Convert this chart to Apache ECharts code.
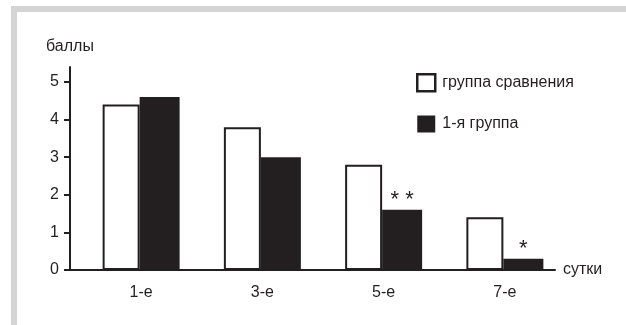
<!DOCTYPE html>
<html>
<head>
<meta charset="utf-8">
<script src="https://cdn.jsdelivr.net/npm/echarts@6/dist/echarts.min.js"></script>
<style>
  html, body { margin: 0; padding: 0; background: #fff; }
  #wrap { position: relative; width: 626px; height: 325px; overflow: hidden; }
  #frame { position: absolute; left: 11px; top: 6px; right: 0; bottom: 0;
           border-top: 6px solid #d4d4d4; border-left: 6px solid #d4d4d4; }
  #chart { position: absolute; left: 0; top: 0; width: 626px; height: 325px; }
</style>
</head>
<body>
<div id="wrap">
  <div id="frame"></div>
  <div id="chart"></div>
</div>
<script>
const categories = ['1-е', '3-е', '5-е', '7-е'];
const comparisonGroup = [4.4, 3.8, 2.8, 1.4];
const firstGroup = [4.6, 3.0, 1.6, 0.3];
const significance = ['', '', '**', '*'];
const yTicks = [0, 1, 2, 3, 4, 5];
const seriesNames = ['группа сравнения', '1-я группа'];

const ink = '#231f20';
const font = '"Liberation Sans", Arial, Helvetica, sans-serif';
const fs = 16;

const chart = echarts.init(document.getElementById('chart'), null, { renderer: 'canvas' });
chart.setOption({
  backgroundColor: 'transparent',
  animation: false,
  textStyle: { fontFamily: font, color: ink },
  legend: {
    orient: 'vertical',
    left: 411,
    top: 68,
    padding: 5,
    itemWidth: 18,
    itemHeight: 17,
    itemGap: 23,
    icon: 'rect',
    textStyle: { fontFamily: font, fontSize: fs, color: ink, padding: [0, 0, 0, 2] },
    data: [
      { name: seriesNames[0], itemStyle: { borderWidth: 2.5, borderColor: ink } },
      { name: seriesNames[1] }
    ]
  },
  grid: [
    { left: 70, top: 67, width: 485, height: 203 },
    { left: 80.5, top: 67, width: 485, height: 203 }
  ],
  xAxis: [
    {
      gridIndex: 0, type: 'category', data: categories,
      axisLine: { show: true, lineStyle: { color: ink, width: 2 } },
      axisTick: { show: false }, axisLabel: { show: false },
      name: 'сутки', nameLocation: 'end', nameGap: 8,
      nameTextStyle: { fontFamily: font, fontSize: fs, color: ink }
    },
    {
      gridIndex: 1, type: 'category', data: categories,
      axisLine: { show: false }, axisTick: { show: false },
      axisLabel: { fontFamily: font, fontSize: fs, color: ink, margin: 15 }
    }
  ],
  yAxis: [
    {
      gridIndex: 0, type: 'value', min: 0, max: 5.4,
      axisLine: { show: true, lineStyle: { color: ink, width: 2 } },
      axisTick: { show: true, length: 6, inside: false, customValues: yTicks, lineStyle: { color: ink, width: 2 } },
      axisLabel: { fontFamily: font, fontSize: fs, color: ink, margin: 11, customValues: yTicks },
      splitLine: { show: false },
      name: 'баллы', nameLocation: 'end', nameGap: 12,
      nameTextStyle: { fontFamily: font, fontSize: fs, color: ink, align: 'center' }
    },
    {
      gridIndex: 1, type: 'value', min: 0, max: 5.4, show: false,
      splitLine: { show: false }
    }
  ],
  series: [
    {
      name: seriesNames[0], type: 'bar', xAxisIndex: 1, yAxisIndex: 1,
      data: comparisonGroup, barWidth: 37, barGap: 0,
      itemStyle: { color: '#ffffff', borderColor: ink, borderWidth: 2 }
    },
    {
      name: seriesNames[1], type: 'bar', xAxisIndex: 1, yAxisIndex: 1,
      data: firstGroup, barWidth: 40, barGap: 0,
      itemStyle: { color: ink },
      label: {
        show: true, position: 'top', distance: -1,
        formatter: p => significance[p.dataIndex].split('').join(' '),
        fontFamily: font, fontSize: 22, color: ink
      }
    }
  ]
});
</script>
</body>
</html>
